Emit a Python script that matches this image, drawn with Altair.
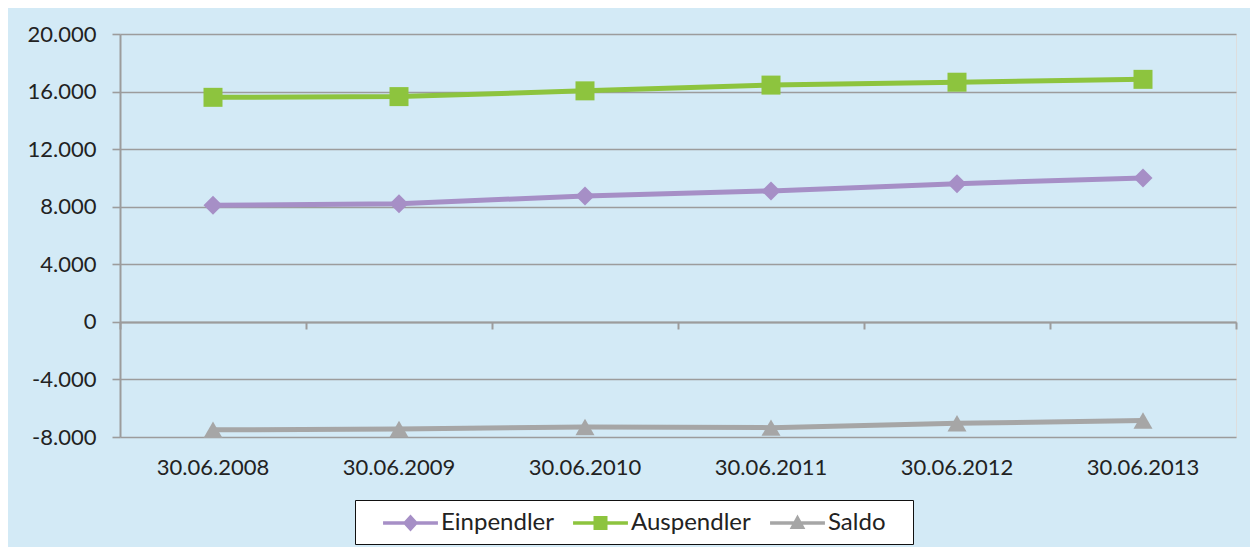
import altair as alt
import pandas as pd

# ---- data ----
dates = ["30.06.2008", "30.06.2009", "30.06.2010", "30.06.2011", "30.06.2012", "30.06.2013"]
einpendler = [8100, 8200, 8750, 9100, 9600, 10000]
auspendler = [15600, 15650, 16050, 16450, 16650, 16850]
saldo = [-7500, -7450, -7300, -7350, -7050, -6850]
series = ["Einpendler", "Auspendler", "Saldo"]
y_ticks = [-8000, -4000, 0, 4000, 8000, 12000, 16000, 20000]

# ---- styles ----
colors = ["#A68FC6", "#8DC43E", "#A6A6A6"]
marker_shapes = ["diamond", "square", "triangle-up"]
# legend symbols: line segment plus marker (drawn wider than the nominal symbol box)
legend_paths = [
    "M-1.96,-0.13H1.96V0.13H-1.96Z M0,-0.6L0.55,0L0,0.6L-0.55,0Z",
    "M-1.96,-0.13H1.96V0.13H-1.96Z M-0.5,-0.5H0.5V0.5H-0.5Z",
    "M-1.96,-0.13H1.96V0.13H-1.96Z M0,-0.6L0.56,0.42L-0.56,0.42Z",
]
GRID = "#9C9C9C"
BG = "#D3EAF6"
TXT = "#222222"

rows = []
for name, vals in zip(series, [einpendler, auspendler, saldo]):
    for d, v in zip(dates, vals):
        rows.append({"Datum": d, "Wert": v, "Reihe": name})
df = pd.DataFrame(rows)

base = alt.Chart(df)
xscale = alt.Scale(type="band", paddingInner=0, paddingOuter=0)
yscale = alt.Scale(domain=[-8000, 20000], nice=False, zero=False)

lines = base.mark_line(strokeWidth=5).encode(
    x=alt.X("Datum:N", sort=dates, scale=xscale,
            axis=alt.Axis(title=None, orient="bottom", domain=False, ticks=False,
                          labelPadding=20, labelFontSize=22, labelColor=TXT,
                          labelAngle=0, grid=False, labelFont="Lato")),
    y=alt.Y("Wert:Q", scale=yscale,
            axis=alt.Axis(values=y_ticks, title=None, grid=True, gridColor=GRID,
                          gridWidth=1.6, gridOpacity=1, domain=True, domainColor=GRID,
                          domainWidth=2, tickSize=8, tickColor=GRID, tickWidth=1.6,
                          labelPadding=16, labelFontSize=22, labelColor=TXT,
                          labelFont="Lato",
                          labelExpr="replace(replace(format(datum.value, ','), ',', '.'), '\u2212', '-')")),
    color=alt.Color("Reihe:N", scale=alt.Scale(domain=series, range=colors), legend=None),
)

points = base.mark_point(filled=True, opacity=1, size=361).encode(
    x=alt.X("Datum:N", sort=dates, scale=xscale,
            axis=alt.Axis(title=None, orient="bottom", offset=-115, labels=False,
                          domain=True, domainColor=GRID, domainWidth=2,
                          ticks=True, tickBand="extent", tickSize=7, tickColor=GRID,
                          tickWidth=2, grid=False)),
    y=alt.Y("Wert:Q", scale=yscale, axis=None),
    color=alt.Color("Reihe:N", scale=alt.Scale(domain=series, range=colors), legend=None),
    shape=alt.Shape("Reihe:N", scale=alt.Scale(domain=series, range=marker_shapes), legend=None),
)

leg = alt.Legend(title=None, orient="none", legendX=235, legendY=466,
                 direction="horizontal", strokeColor="#111111", fillColor="white",
                 padding=9, columnPadding=0, labelFontSize=24, labelFont="Lato",
                 labelColor=TXT, labelOffset=16.5, symbolOffset=32.5, symbolSize=784,
                 symbolStrokeWidth=0, symbolOpacity=1,
                 labelExpr="datum.label == 'Saldo' ? datum.label + '\u2800' : datum.label")

legend_layer = base.transform_filter("false").mark_point(filled=True, opacity=1, strokeWidth=0).encode(
    color=alt.Color("Reihe:N", scale=alt.Scale(domain=series, range=colors), legend=leg),
    shape=alt.Shape("Reihe:N", scale=alt.Scale(domain=series, range=legend_paths), legend=leg),
)

chart = alt.layer(lines, points, legend_layer).resolve_scale(
    color="independent", shape="independent"
).resolve_axis(x="independent", y="independent").properties(
    width=1116, height=403,
    autosize=alt.AutoSizeParams(type="none"),
    padding={"left": 112, "top": 26, "right": 14, "bottom": 110},
    background=BG,
).configure_view(stroke=GRID, strokeWidth=2, strokeOpacity=1).configure(font="Lato")

chart.save("out.html", embed_options={"renderer": "svg", "actions": False})
